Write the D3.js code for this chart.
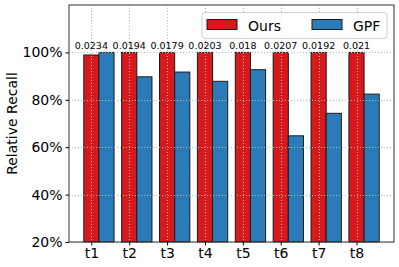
<!DOCTYPE html>
<html>
<head>
<meta charset="utf-8">
<script src="https://cdn.jsdelivr.net/npm/d3@7"></script>
<style>
  body { margin: 0; background: #fff; }
  text { font-family: "DejaVu Sans", sans-serif; fill: #000; }
</style>
</head>
<body>
<script>
// data
var tasks = ["t1", "t2", "t3", "t4", "t5", "t6", "t7", "t8"];
var ours = [98.9, 100, 100, 100, 100, 100, 100, 100];
var gpf = [100, 89.7, 91.7, 87.8, 92.7, 64.8, 74.3, 82.4];
var notes = ["0.0234", "0.0194", "0.0179", "0.0203", "0.018", "0.0207", "0.0192", "0.021"];
var yTicks = [20, 40, 60, 80, 100];

var colors = { ours: "#d7191c", gpf: "#2b7bb9", edge: "#1a1a1a", grid: "#b8b8b8" };

var width = 399, height = 267;
var margin = {top: 5, right: 5, bottom: 25, left: 69};
var barW = 0.4;

var svg = d3.select("body").append("svg")
  .attr("width", width)
  .attr("height", height);

// scales
var x = d3.scaleLinear()
  .domain([-0.59, tasks.length - 1 + 0.99])
  .range([margin.left, width - margin.right]);

var y = d3.scaleLinear()
  .domain([20, 120])
  .range([height - margin.bottom, margin.top]);

var bw = x(barW) - x(0);

// bars
var groups = svg.append("g")
  .selectAll("g")
  .data(tasks)
  .enter()
  .append("g");

groups.append("rect")
  .attr("x", (d, i) => x(i - barW / 2))
  .attr("y", (d, i) => y(ours[i]))
  .attr("width", bw)
  .attr("height", (d, i) => y(20) - y(ours[i]))
  .style("fill", colors.ours)
  .style("stroke", colors.edge)
  .style("stroke-width", 1);

groups.append("rect")
  .attr("x", (d, i) => x(i + barW / 2))
  .attr("y", (d, i) => y(gpf[i]))
  .attr("width", bw)
  .attr("height", (d, i) => y(20) - y(gpf[i]))
  .style("fill", colors.gpf)
  .style("stroke", colors.edge)
  .style("stroke-width", 1);

/* grid on top of bars */
var grid = svg.append("g")
  .style("stroke", colors.grid)
  .style("stroke-dasharray", "1,2")
  .style("stroke-width", 1);

grid.selectAll(".gx")
  .data(tasks)
  .enter()
  .append("line")
  .attr("x1", (d, i) => Math.round(x(i)) + 0.5)
  .attr("x2", (d, i) => Math.round(x(i)) + 0.5)
  .attr("y1", y(120))
  .attr("y2", y(20));

grid.selectAll(".gy")
  .data(yTicks)
  .enter()
  .append("line")
  .attr("x1", x.range()[0])
  .attr("x2", x.range()[1])
  .attr("y1", d => Math.round(y(d)) + 0.5)
  .attr("y2", d => Math.round(y(d)) + 0.5);

// annotations
svg.append("g")
  .selectAll("text")
  .data(notes)
  .enter()
  .append("text")
  .attr("x", (d, i) => x(i))
  .attr("y", y(100) - 3.5)
  .attr("text-anchor", "middle")
  .style("font-size", "9.5px")
  .text(d => d);

// axes
var xAxis = g => g
  .attr("transform", `translate(0,${y(20)})`)
  .call(d3.axisBottom(x)
    .tickValues(d3.range(tasks.length))
    .tickFormat(i => tasks[i])
    .tickSize(3.5)
    .tickPadding(3))
  .call(g => g.select(".domain").remove())
  .call(g => g.selectAll("text").style("font-size", "14px").style("font-family", "DejaVu Sans"));

var yAxis = g => g
  .attr("transform", `translate(${x.range()[0]},0)`)
  .call(d3.axisLeft(y)
    .tickValues(yTicks)
    .tickFormat(d => d + "%")
    .tickSize(3.5)
    .tickPadding(3))
  .call(g => g.select(".domain").remove())
  .call(g => g.selectAll("text").style("font-size", "14px").style("font-family", "DejaVu Sans"));

svg.append("g").call(xAxis);
svg.append("g").call(yAxis);

/* spines */
var x0 = x.range()[0], x1 = x.range()[1], y0 = y(20), y1 = y(120);
svg.append("rect")
  .attr("x", x0)
  .attr("y", y1)
  .attr("width", x1 - x0)
  .attr("height", y0 - y1)
  .style("fill", "none")
  .style("stroke", "#333")
  .style("stroke-width", 1);

svg.append("text")
  .attr("transform", `translate(17,${(y0 + y1) / 2}) rotate(-90)`)
  .attr("text-anchor", "middle")
  .style("font-size", "14px")
  .text("Relative Recall");

// legend
var legend = svg.append("g");
legend.append("rect")
  .attr("x", 202)
  .attr("y", 12.5)
  .attr("width", 185)
  .attr("height", 26)
  .attr("rx", 3)
  .style("fill", "rgba(255,255,255,0.85)")
  .style("stroke", "#d0d0d0");

var legendItems = [
  {label: "Ours", color: colors.ours},
  {label: "GPF", color: colors.gpf}
];
var lx = [207, 312];
legendItems.forEach(function(d, i) {
  legend.append("rect")
    .attr("x", lx[i])
    .attr("y", 19.5)
    .attr("width", 30)
    .attr("height", 10)
    .style("fill", d.color)
    .style("stroke", colors.edge);
  legend.append("text")
    .attr("x", lx[i] + 41)
    .attr("y", 30.5)
    .style("font-size", "14px")
    .text(d.label);
});
</script>
</body>
</html>
